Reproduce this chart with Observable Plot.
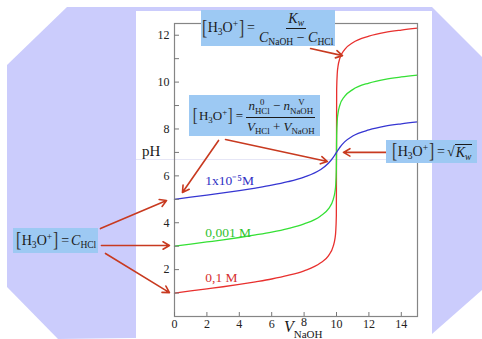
<!DOCTYPE html>
<html>
<head>
<meta charset="utf-8">
<script src="https://cdn.jsdelivr.net/npm/d3@7"></script>
<script src="https://cdn.jsdelivr.net/npm/@observablehq/plot@0.6"></script>
<style>
  html, body { margin: 0; padding: 0; background: #fff; }
  #wrap { position: relative; width: 482px; height: 339px; overflow: hidden; font-family: "Liberation Serif", "Times New Roman", serif; }
  #oct { position: absolute; left: 0; top: 0; width: 482px; height: 339px; background: #cbccfc;
    clip-path: polygon(67px 7px, 432px 7px, 482px 57px, 482px 290px, 432px 334px, 58px 339px, 7px 287px, 7px 65px); }
  #panel { position: absolute; left: 136px; top: 11px; width: 296px; height: 328px; background: #fff; }
  #faint { position: absolute; left: 136px; top: 159px; width: 296px; height: 1px; background: #e6e6f6; }
  #chart { position: absolute; left: 0; top: 0; width: 482px; height: 339px; }
  #chart svg { max-width: none !important; display: block; }
  .box { position: absolute; background: #9dc9f3; display: flex; align-items: center; justify-content: center;
    font-size: 14px; color: #1a1a1a; white-space: nowrap; line-height: 1; }
  .br { font-size: 1.5em; line-height: 1; font-weight: 300; color: #333; position: relative; top: -1px; transform: scaleX(0.75); display: inline-block; }
  .eq { margin: 0 2px; }
  .frac { display: inline-flex; flex-direction: column; align-items: center; }
  .num { border-bottom: 1px solid #1a1a1a; padding: 0 2px 2px 2px; }
  .den { padding: 2px 2px 0 2px; }
  sub, sup { font-size: 0.68em; line-height: 0; }
  sub { vertical-align: -0.35em; }
  sup { vertical-align: 0.55em; }
  .ss { display: inline-flex; flex-direction: column; font-size: 0.68em; line-height: 1; vertical-align: 0.55em; align-items: center; }
  .lab { position: absolute; color: #1a1a1a; }
</style>
</head>
<body>
<div id="wrap">
  <div id="oct"></div>
  <div id="panel"></div>
  <div id="faint"></div>
  <div id="chart"></div>

  <div class="box" style="left:201px;top:10px;width:134px;height:36px;font-size:14px;">
    <span class="br">[</span><span>H<sub>3</sub>O<sup>+</sup></span><span class="br">]</span><span class="eq">=</span>
    <span class="frac"><span class="num"><i>K</i><sub><i>w</i></sub></span><span class="den"><i>C</i><sub>NaOH</sub> − <i>C</i><sub>HCl</sub></span></span>
  </div>

  <div class="box" style="left:189px;top:95px;width:131px;height:41px;font-size:13px;">
    <span class="br">[</span><span>H<sub>3</sub>O<sup>+</sup></span><span class="br">]</span><span class="eq">=</span>
    <span class="frac"><span class="num"><i>n</i><span class="ss"><span>0</span><span>HCl</span></span> − <i>n</i><span class="ss"><span>V</span><span>NaOH</span></span></span><span class="den"><i>V</i><sub>HCl</sub> + <i>V</i><sub>NaOH</sub></span></span>
  </div>

  <div class="box" style="left:386px;top:140px;width:91px;height:23px;font-size:14px;">
    <span class="br">[</span><span>H<sub>3</sub>O<sup>+</sup></span><span class="br">]</span><span class="eq">=</span>
    <span>√</span><span style="border-top:1px solid #1a1a1a;padding:1px 1px 0 1px;"><i>K</i><sub><i>w</i></sub></span>
  </div>

  <div class="box" style="left:13px;top:228px;width:85px;height:25px;font-size:14px;">
    <span class="br">[</span><span>H<sub>3</sub>O<sup>+</sup></span><span class="br">]</span><span class="eq">=</span>
    <span><i>C</i><sub>HCl</sub></span>
  </div>

  <div class="lab" style="left:142px;top:143px;font-size:15px;">pH</div>
  <div class="lab" style="left:284px;top:318px;font-size:16px;"><i>V</i><span style="font-size:11px;position:relative;top:6px;">NaOH</span></div>
</div>
<script>
// Volume of NaOH added (mL)
const volume = [0, 1, 2, 3, 4, 5, 6, 7, 8, 9, 9.5, 9.8, 9.9, 9.95, 9.99, 10, 10.01, 10.05, 10.1, 10.2, 10.5, 11, 12, 13, 14, 15];
// pH for each concentration
const pH_01    = [1.00, 1.09, 1.18, 1.27, 1.37, 1.48, 1.60, 1.75, 1.95, 2.28, 2.59, 3.00, 3.30, 3.60, 4.30, 7.00, 9.70, 10.40, 10.70, 11.00, 11.39, 11.68, 11.96, 12.12, 12.22, 12.30];
const pH_0001  = [3.00, 3.09, 3.18, 3.27, 3.37, 3.48, 3.60, 3.75, 3.95, 4.28, 4.59, 5.00, 5.30, 5.60, 6.28, 7.00, 7.72, 8.40, 8.70, 9.00, 9.39, 9.68, 9.96, 10.12, 10.22, 10.30];
const pH_1e5   = [5.00, 5.09, 5.18, 5.27, 5.37, 5.48, 5.60, 5.75, 5.95, 6.26, 6.54, 6.79, 6.89, 6.95, 6.99, 7.00, 7.01, 7.05, 7.11, 7.21, 7.45, 7.70, 7.96, 8.12, 8.22, 8.30];

const seriesNames = ["0,1 M", "0,001 M", "1x10⁻⁵M"];
const lineColors = ["#e8302e", "#35e035", "#3636d2"];
const labelColors = ["#d63030", "#2fc22f", "#3030c4"];

// label anchors (data coords)
const labelV  = [1.9, 1.9, 1.9];
const labelPH = [1.66, 3.58, 5.80];

// annotation arrows (data coords): start -> end
const arrowX1 = [8.40, 2.72, 3.15, 13.09, -4.57, -4.51, -4.26];
const arrowY1 = [11.43, 7.51, 7.55, 7.00, 3.75, 3.03, 2.69];
const arrowX2 = [10.37, 0.49, 9.44, 10.43, -0.49, -0.31, -0.31];
const arrowY2 = [11.13, 5.29, 6.61, 7.00, 4.95, 3.03, 1.02];

const xMajor = [0, 2, 4, 6, 8, 10, 12, 14];
const xRaised = [8];   // tick label lifted above the axis title
const yMajor = [2, 4, 6, 8, 10, 12];
const yMinor = [1, 2, 3, 4, 5, 6, 7, 8, 9, 10, 11, 12];

const seriesValues = [pH_01, pH_0001, pH_1e5];
const rows = seriesValues.flatMap((arr, k) => volume.map((v, i) => ({v, pH: arr[i], s: seriesNames[k]})));
const labels = seriesNames.map((s, k) => ({s, v: labelV[k], pH: labelPH[k], c: labelColors[k]}));
const arrows = arrowX1.map((d, i) => ({x1: arrowX1[i], y1: arrowY1[i], x2: arrowX2[i], y2: arrowY2[i]}));

const chart = Plot.plot({
  width: 482,
  height: 339,
  marginLeft: 174,
  marginRight: 65,
  marginTop: 23,
  marginBottom: 23,
  style: {background: "transparent", fontFamily: "'Liberation Serif', 'Times New Roman', serif", fontSize: "12px", color: "#222", maxWidth: "none", overflow: "visible"},
  x: {domain: [0, 15]},
  y: {domain: [0, 12.5]},
  color: {domain: seriesNames, range: lineColors},
  marks: [
    Plot.line(rows, {x: "v", y: "pH", z: "s", stroke: "s", strokeWidth: 1.3, curve: "monotone-x"}),
    Plot.frame({stroke: "#858585", strokeWidth: 1.2}),
    Plot.axisX({ticks: xMajor.filter(t => !xRaised.includes(t)), tickSize: 0, tickPadding: 3, label: null, fill: "#222"}),
    Plot.axisX({ticks: xRaised, tickSize: 0, tickPadding: 3, dy: -2, label: null, fill: "#222"}),
    Plot.axisX({ticks: xMajor, tickSize: 4, dy: -4, tickFormat: () => "", label: null, stroke: "#777"}),
    Plot.axisY({ticks: yMajor, tickSize: 0, tickPadding: 5, label: null, fill: "#222"}),
    Plot.axisY({ticks: yMinor, tickSize: 5, dx: 5, tickFormat: () => "", label: null, stroke: "#777"}),
    Plot.text(labels, {x: "v", y: "pH", text: "s", fill: "c", textAnchor: "start", fontSize: 13.5}),
    Plot.arrow(arrows, {x1: "x1", y1: "y1", x2: "x2", y2: "y2", stroke: "#c83a20", strokeWidth: 1.6, headLength: 7})
  ]
});
chart.style.position = "absolute";
chart.style.left = "0px";
chart.style.top = "0px";
chart.style.maxWidth = "none";
chart.setAttribute("width", 482);
chart.setAttribute("height", 339);
document.getElementById("chart").appendChild(chart);
</script>
</body>
</html>
